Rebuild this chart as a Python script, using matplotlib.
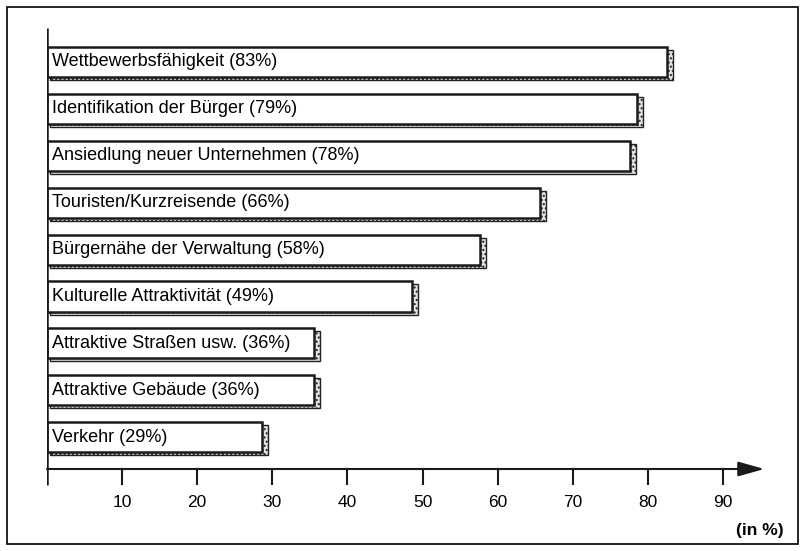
import matplotlib
matplotlib.use("Agg")
from matplotlib import pyplot as plt
from matplotlib.patches import Rectangle

plt.rcParams['font.family'] = ['Liberation Sans', 'DejaVu Sans']
plt.rcParams['hatch.color'] = '#777777'

# data
labels = ['Wettbewerbsfähigkeit', 'Identifikation der Bürger', 'Ansiedlung neuer Unternehmen',
          'Touristen/Kurzreisende', 'Bürgernähe der Verwaltung', 'Kulturelle Attraktivität',
          'Attraktive Straßen usw.', 'Attraktive Gebäude', 'Verkehr']
values = [83, 79, 78, 66, 58, 49, 36, 36, 29]
ticks = [10, 20, 30, 40, 50, 60, 70, 80, 90]

fig = plt.figure(figsize=(8.06, 5.51), dpi=100)
# frame round the whole chart
fig.patches.append(Rectangle((7/806, 7/551), 791/806, 537/551, transform=fig.transFigure,
                             fill=False, edgecolor='black', linewidth=1.2))

# axes placed so that 0 sits at x=47px, 90 at x=723px
px = 676 / 90.0
left_px, right_px = 47, 790
top_px, bot_px = 20, 520
ax = fig.add_axes([left_px/806, 1 - bot_px/551, (right_px-left_px)/806, (bot_px-top_px)/551])
ax.set_xlim(0, (right_px-left_px)/px)
step = 46.9
ax.set_ylim((bot_px-62)/step, (top_px-62)/step)
ax.axis('off')

pos = list(range(len(values)))
h = 0.64
dx = 3/px
dy = 3/step

# shadow then bar
ax.barh([p + dy for p in pos], values, left=dx, height=h,
        color='#e4e4e4', edgecolor='#222222', linewidth=1.0, hatch='....', zorder=2)
ax.barh(pos, [v - dx for v in values], height=h, color='white', edgecolor='#1a1a1a',
        linewidth=1.8, zorder=3)

for p, lab, v in zip(pos, labels, values):
    ax.text(0.7, p, '%s (%d%%)' % (lab, v), ha='left', va='center', fontsize=13, zorder=4)

# axes lines
xaxis_y = (469-62)/step
ax.plot([0, 0], [(28-62)/step, (485-62)/step], color='#1a1a1a', lw=1.8, zorder=5,
        solid_capstyle='butt')
ax.annotate('', xy=(95.5, xaxis_y), xytext=(0, xaxis_y),
            arrowprops=dict(arrowstyle='-|>,head_length=1.6,head_width=0.45',
                            color='#1a1a1a', lw=1.5, shrinkA=0, shrinkB=0), zorder=5)
for t in ticks:
    ax.plot([t, t], [xaxis_y, (484-62)/step], color='#1a1a1a', lw=1.5, zorder=5)
    ax.text(t, (502-62)/step, str(t), ha='center', va='center', fontsize=12.5)

ax.text(760/px - 47/px, (530-62)/step, '(in %)', ha='center', va='center',
        fontsize=12.5, fontweight='bold')

fig.savefig('out.png', dpi=100)
